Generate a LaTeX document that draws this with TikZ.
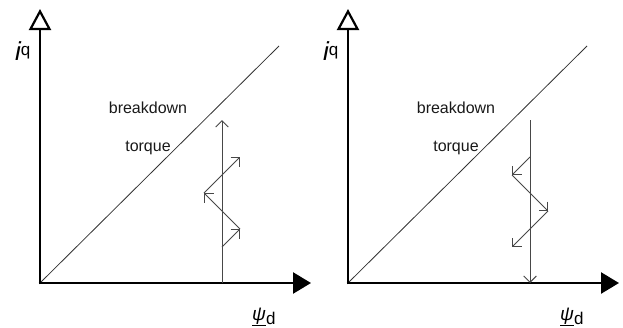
\documentclass[tikz,border=0pt]{standalone}
\usepackage{fontspec}
\setmainfont{Liberation Sans}
\usetikzlibrary{arrows.meta}
\tikzset{
  axisy/.style={line width=2.6pt, black, shorten <=-1.3pt, -{Triangle[open,length=21pt,width=22pt,line width=2.2pt]}},
  axisx/.style={line width=2.6pt, black, shorten <=-1.3pt, -{Triangle[length=18pt,width=21pt]}},
  diag/.style={line width=0.8pt, black!80},
  vec/.style={line width=1pt, black!72, -{Straight Barb[angle=90:9pt,line width=1pt]}},
  lbl/.style={font=\fontsize{16}{16}\selectfont, inner sep=0pt, text=black!90},
  axlbl/.style={inner sep=0pt, anchor=base west},
}
\newcommand{\iqlabel}{{\fontsize{26}{26}\selectfont\itshape i}\raisebox{5pt}{\fontsize{17}{17}\selectfont q}}
\newcommand{\psidlabel}{\underline{\fontsize{19}{19}\selectfont\itshape ψ}\raisebox{-4pt}{\fontsize{17}{17}\selectfont d}}
\begin{document}
\begin{tikzpicture}[x=1pt,y=-1pt]
\useasboundingbox (0,0) rectangle (623,327);
% ---------- left panel ----------
\coordinate (LO) at (40,283);
\coordinate (LY) at (40,9);
\coordinate (LX) at (311,283);
\coordinate (LD) at (279,46);
\draw[diag] (LO) -- (LD);
\draw[axisy] (LO) -- (LY);
\draw[axisx] (LO) -- (LX);
\node[axlbl] (Liq) at (15,60) {\iqlabel};
\node[axlbl] (Lpsi) at (252,320) {\psidlabel};
\node[lbl] (Lbd) at (148,108) {breakdown};
\node[lbl] (Ltq) at (148,148) {torque};
\coordinate (LV0) at (222,283);
\coordinate (LV1) at (222,120);
\coordinate (LP0) at (222,247);
\coordinate (LP1) at (240,229);
\coordinate (LP2) at (204,193);
\coordinate (LP3) at (240,157);
\draw[vec] (LV0) -- (LV1);
\draw[vec] (LP0) -- (LP1);
\draw[vec] (LP1) -- (LP2);
\draw[vec] (LP2) -- (LP3);
% ---------- right panel ----------
\coordinate (RO) at (348,283);
\coordinate (RY) at (348,9);
\coordinate (RX) at (619,283);
\coordinate (RD) at (587,46);
\draw[diag] (RO) -- (RD);
\draw[axisy] (RO) -- (RY);
\draw[axisx] (RO) -- (RX);
\node[axlbl] (Riq) at (323,60) {\iqlabel};
\node[axlbl] (Rpsi) at (560,320) {\psidlabel};
\node[lbl] (Rbd) at (456,108) {breakdown};
\node[lbl] (Rtq) at (456,148) {torque};
\coordinate (RV0) at (530,120);
\coordinate (RV1) at (530,283);
\coordinate (RQ0) at (530,157);
\coordinate (RQ1) at (512,175);
\coordinate (RQ2) at (548,211);
\coordinate (RQ3) at (512,247);
\draw[vec] (RV0) -- (RV1);
\draw[vec] (RQ0) -- (RQ1);
\draw[vec] (RQ1) -- (RQ2);
\draw[vec] (RQ2) -- (RQ3);
\end{tikzpicture}
\end{document}
